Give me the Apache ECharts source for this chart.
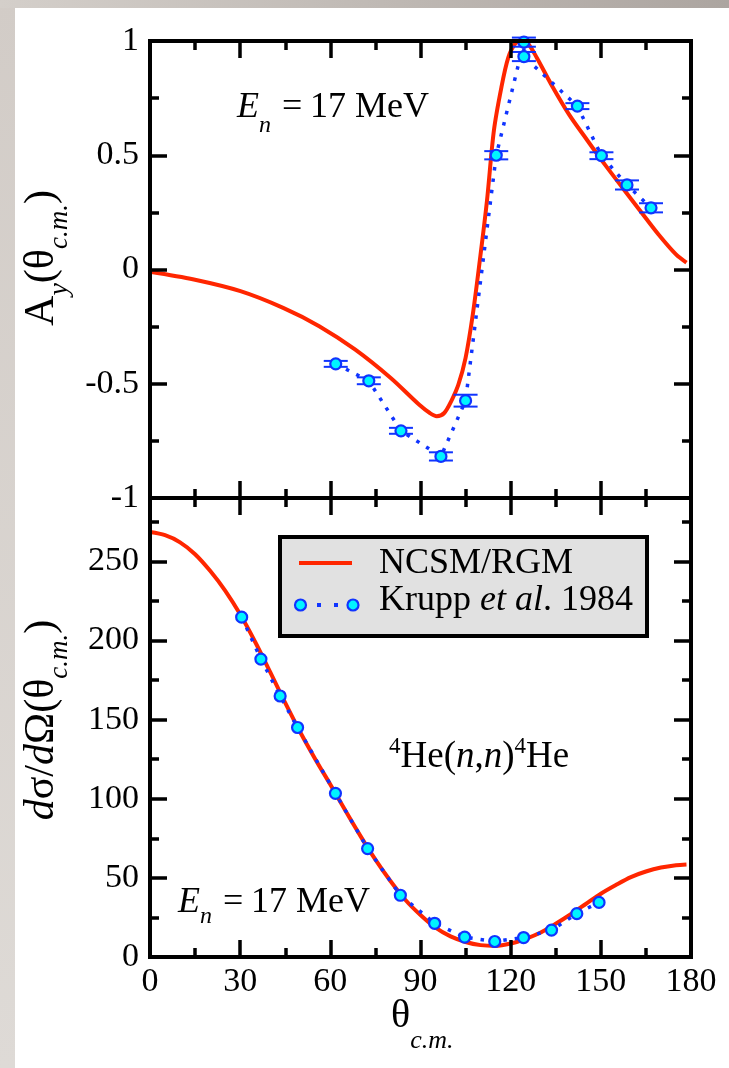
<!DOCTYPE html>
<html><head><meta charset="utf-8">
<script src="https://cdn.jsdelivr.net/npm/echarts@6/dist/echarts.min.js"></script>
<style>html,body{margin:0;padding:0;background:#fff}#c{width:729px;height:1068px}</style>
</head><body><div id="c"></div>
<script>
// ---------- DATA ----------
const thetaTicks = [0, 30, 60, 90, 120, 150, 180];
const ayTicks = [-1, -0.5, 0, 0.5, 1];
const dsTicks = [0, 50, 100, 150, 200, 250];

// NCSM/RGM analyzing power
const ayCurveTheta = [0, 14.6, 30.1, 44.3, 56.3, 68.2, 80, 89.5, 93.1, 95.4, 97.9, 100.2, 102.6, 105, 107.4, 109.7, 112.1, 114.4, 116.9, 119.2, 121.6, 123.6, 125.7, 128.7, 133.5, 139.4, 145.3, 151.3, 157.2, 163.2, 169.2, 175, 178.5];
const ayCurveValue = [-0.01, -0.044, -0.095, -0.168, -0.248, -0.350, -0.474, -0.591, -0.628, -0.642, -0.628, -0.577, -0.504, -0.387, -0.197, 0.036, 0.299, 0.606, 0.796, 0.927, 0.99, 1.0, 0.99, 0.927, 0.81, 0.679, 0.569, 0.460, 0.358, 0.255, 0.153, 0.066, 0.03];

// Krupp et al. 1984 analyzing power
const ayExpTheta = [61.8, 72.8, 83.5, 96.8, 105, 115.2, 124.4, 124.4, 142.2, 150.2, 158.7, 166.7];
const ayExpValue = [-0.413, -0.487, -0.706, -0.818, -0.574, 0.500, 0.995, 0.932, 0.715, 0.498, 0.370, 0.270];
const ayExpError = [0.013, 0.015, 0.013, 0.018, 0.026, 0.018, 0.02, 0.02, 0.013, 0.015, 0.02, 0.02];

// NCSM/RGM cross section
const dsCurveTheta = [0, 5, 10, 15, 20, 25, 30, 35, 40, 45, 50, 55, 60, 65, 70, 75, 80, 85, 90, 95, 100, 105, 110, 115, 120, 125, 130, 135, 140, 145, 150, 155, 160, 165, 170, 175, 178.5];
const dsCurveValue = [268.5, 266.5, 262, 254.5, 244, 231.5, 216.5, 199, 180, 160.5, 142, 125, 109, 92.5, 76.5, 61.5, 48, 36, 26.5, 18.5, 13, 9.5, 7.5, 7, 8.5, 11.5, 15.5, 21, 27, 33.5, 40, 45.5, 50.5, 54, 56.5, 58, 58.5];

// Krupp et al. 1984 cross section
const dsExpTheta = [30.5, 36.9, 43.3, 49.1, 61.7, 72.4, 83.3, 94.7, 104.7, 114.7, 124.3, 133.6, 142.0, 149.4];
const dsExpValue = [214.7, 188.2, 164.9, 145.0, 103.4, 68.5, 39.0, 21.3, 12.6, 9.8, 12.3, 17.0, 27.4, 34.5];

const seriesNames = ['NCSM/RGM', 'Krupp et al. 1984'];

// ---------- STYLE ----------
const FONT = '"Liberation Serif", "Times New Roman", serif';
const RED = '#ff2600', BLUE = '#1034ff', CYAN = '#00f4ff';
const zip = (a, b) => a.map((v, i) => [v, b[i]]);

const mctx = document.createElement('canvas').getContext('2d');
function fontStr(size, italic) { return (italic ? 'italic ' : '') + size + 'px ' + FONT; }
function tw(t, size, italic) { mctx.font = fontStr(size, italic); return mctx.measureText(t).width; }
function txt(t, size, italic, x, base) {
  return { type: 'text', x: x, y: base - 0.34 * size, silent: true,
    style: { text: t, font: fontStr(size, italic), fill: '#000', textAlign: 'left', textVerticalAlign: 'middle' } };
}
// segments: [text, size, italic, dy]; base = baseline
function runEls(segs, x0, base) {
  let x = x0; const out = [];
  for (const [t, s, it, dy] of segs) { out.push(txt(t, s, it, x, base + (dy || 0))); x += tw(t, s, it); }
  return { els: out, width: x - x0 };
}
function runWidth(segs) { return segs.reduce((w, [t, s, it]) => w + tw(t, s, it), 0); }

const chart = echarts.init(document.getElementById('c'), null, { renderer: 'canvas', width: 729, height: 1068 });

function xAx(grid, pos, labels) {
  return { type: 'value', gridIndex: grid, position: pos, min: thetaTicks[0], max: thetaTicks[thetaTicks.length - 1],
    interval: thetaTicks[1] - thetaTicks[0], z: 10,
    axisLine: { show: true, onZero: false, lineStyle: { color: '#000', width: 4, cap: 'square' } },
    axisTick: { show: true, inside: true, length: 17, lineStyle: { color: '#000', width: 3.5 } },
    minorTick: { show: true, splitNumber: 2, length: 9, lineStyle: { color: '#000', width: 3.5 } },
    splitLine: { show: false }, minorSplitLine: { show: false },
    axisLabel: { show: labels, margin: 8, fontFamily: FONT, fontSize: 34, color: '#000',
      formatter: v => thetaTicks.includes(v) ? String(v) : '' } };
}
function yAx(grid, pos, labels, ticks, max) {
  return { type: 'value', gridIndex: grid, position: pos, min: ticks[0], max: max,
    interval: ticks[1] - ticks[0], z: 10,
    axisLine: { show: true, onZero: false, lineStyle: { color: '#000', width: 4, cap: 'square' } },
    axisTick: { show: true, inside: true, length: 17, lineStyle: { color: '#000', width: 3.5 } },
    minorTick: { show: true, splitNumber: 2, length: 9, lineStyle: { color: '#000', width: 3.5 } },
    splitLine: { show: false }, minorSplitLine: { show: false },
    axisLabel: { show: labels, margin: 11, fontFamily: FONT, fontSize: 34, color: '#000',
      showMaxLabel: true, showMinLabel: true,
      formatter: v => ticks.some(t => Math.abs(t - v) < 1e-9) ? String(v) : '' } };
}

const g = [];
// page background
g.push({ type: 'rect', shape: { x: 0, y: 0, width: 729, height: 1068 }, z: -100, silent: true, style: { fill: '#ffffff' } });
g.push({ type: 'rect', shape: { x: 0, y: 0, width: 15, height: 1068 }, z: -99, silent: true,
  style: { fill: new echarts.graphic.LinearGradient(0, 0, 0, 1, [{ offset: 0, color: '#d2ccc7' }, { offset: 1, color: '#dedad6' }]) } });
g.push({ type: 'rect', shape: { x: 0, y: 0, width: 729, height: 8 }, z: -99, silent: true,
  style: { fill: new echarts.graphic.LinearGradient(0, 0, 1, 0, [{ offset: 0, color: '#d4cfca' }, { offset: 1, color: '#aca5a0' }]) } });

// legend
g.push({ type: 'rect', shape: { x: 280, y: 537, width: 367, height: 99 }, z: 50, silent: true,
  style: { fill: '#e1e1e1', stroke: '#000', lineWidth: 4 } });
g.push({ type: 'line', shape: { x1: 299, y1: 563, x2: 352, y2: 563 }, z: 51, silent: true, style: { stroke: RED, lineWidth: 4 } });
[319, 336].forEach(cx => g.push({ type: 'rect', shape: { x: cx - 2, y: 603, width: 4, height: 4 }, z: 51, silent: true, style: { fill: BLUE } }));
[300.5, 353].forEach(cx => g.push({ type: 'circle', shape: { cx: cx, cy: 605, r: 5.5 }, z: 52, silent: true,
  style: { fill: CYAN, stroke: BLUE, lineWidth: 2.2 } }));
runEls([[seriesNames[0], 36, false]], 379, 576).els.forEach(e => { e.z = 52; g.push(e); });
runEls([['Krupp ', 36, false], ['et al', 36, true], ['. 1984', 36, false]], 379, 613).els.forEach(e => { e.z = 52; g.push(e); });

// E_n annotations
function enLabel(x, base, subDy) {
  return [txt('E', 36, true, x, base), txt('n', 24, true, x + 22, base + subDy),
          txt('=', 36, false, x + 45, base), txt('17 MeV', 36, false, x + 73, base)];
}
enLabel(237, 120, 14).forEach(e => g.push(e));
enLabel(178, 915, 10).forEach(e => g.push(e));
// reaction label
runEls([['4', 23, false, -15], ['He(', 37, false], ['n', 37, true], [',', 37, false], ['n', 37, true], [')', 37, false], ['4', 23, false, -15], ['He', 37, false]], 389, 770).els.forEach(e => g.push(e));

// x axis title
runEls([['θ', 40, false], ['c.m.', 26, true, 20]], 391, 1030).els.forEach(e => g.push(e));

// rotated y titles
function rotTitle(segs, cy, baseX) {
  const w = runWidth(segs);
  const r = runEls(segs, -w / 2, 0);
  return { type: 'group', x: baseX, y: cy, rotation: Math.PI / 2, children: r.els, silent: true };
}
g.push(rotTitle([['A', 42, false], ['y', 28, true, 13], ['(θ', 42, false], ['c.m.', 27, true, 13], [')', 42, false]], 258, 56));
g.push(rotTitle([['d', 42, true], ['σ/', 42, false], ['d', 42, true], ['Ω(θ', 42, false], ['c.m.', 27, true, 13], [')', 42, false]], 720, 56));

const errData = ayExpTheta.map((t, i) => [t, ayExpValue[i], ayExpError[i]]);

const option = {
  animation: false,
  backgroundColor: 'transparent',
  grid: [
    { left: 150, top: 41, width: 541, height: 457, outerBoundsMode: 'none', containLabel: false },
    { left: 150, top: 498, width: 541, height: 459, outerBoundsMode: 'none', containLabel: false }
  ],
  xAxis: [xAx(0, 'bottom', false), xAx(0, 'top', false), xAx(1, 'bottom', true), xAx(1, 'top', false)],
  yAxis: [yAx(0, 'left', true, ayTicks, 1), yAx(0, 'right', false, ayTicks, 1),
          yAx(1, 'left', true, dsTicks, 290), yAx(1, 'right', false, dsTicks, 290)],
  graphic: { elements: g },
  series: [
    { name: seriesNames[0], type: 'line', xAxisIndex: 0, yAxisIndex: 0, data: zip(ayCurveTheta, ayCurveValue),
      smooth: 0.3, showSymbol: false, z: 3, lineStyle: { color: RED, width: 4 } },
    { name: seriesNames[1], type: 'line', xAxisIndex: 0, yAxisIndex: 0, data: zip(ayExpTheta, ayExpValue),
      showSymbol: false, z: 4, clip: false, lineStyle: { color: BLUE, width: 3.5, type: [3.5, 8] } },
    { name: seriesNames[1] + ' errors', type: 'custom', xAxisIndex: 0, yAxisIndex: 0, data: errData, z: 5, clip: false,
      renderItem: (params, api) => {
        const x = api.value(0), y = api.value(1), e = api.value(2);
        const lo = api.coord([x, y - e]), hi = api.coord([x, y + e]);
        const hw = 12;
        const st = { stroke: BLUE, lineWidth: 2, fill: null };
        return { type: 'group', children: [
          { type: 'line', shape: { x1: lo[0], y1: lo[1], x2: hi[0], y2: hi[1] }, style: st },
          { type: 'line', shape: { x1: lo[0] - hw, y1: lo[1], x2: lo[0] + hw, y2: lo[1] }, style: st },
          { type: 'line', shape: { x1: hi[0] - hw, y1: hi[1], x2: hi[0] + hw, y2: hi[1] }, style: st }
        ] };
      } },
    { name: seriesNames[1], type: 'scatter', xAxisIndex: 0, yAxisIndex: 0, data: zip(ayExpTheta, ayExpValue),
      symbol: 'circle', symbolSize: 11, z: 6, clip: false, itemStyle: { color: CYAN, borderColor: BLUE, borderWidth: 2.2, opacity: 1 } },

    { name: seriesNames[0], type: 'line', xAxisIndex: 2, yAxisIndex: 2, data: zip(dsCurveTheta, dsCurveValue),
      smooth: 0.3, showSymbol: false, z: 3, lineStyle: { color: RED, width: 4 } },
    { name: seriesNames[1], type: 'line', xAxisIndex: 2, yAxisIndex: 2, data: zip(dsExpTheta, dsExpValue),
      showSymbol: false, z: 4, lineStyle: { color: BLUE, width: 3.5, type: [3.5, 8] } },
    { name: seriesNames[1], type: 'scatter', xAxisIndex: 2, yAxisIndex: 2, data: zip(dsExpTheta, dsExpValue),
      symbol: 'circle', symbolSize: 11, z: 6, itemStyle: { color: CYAN, borderColor: BLUE, borderWidth: 2.2, opacity: 1 } }
  ]
};
chart.setOption(option);
</script>
</body></html>
